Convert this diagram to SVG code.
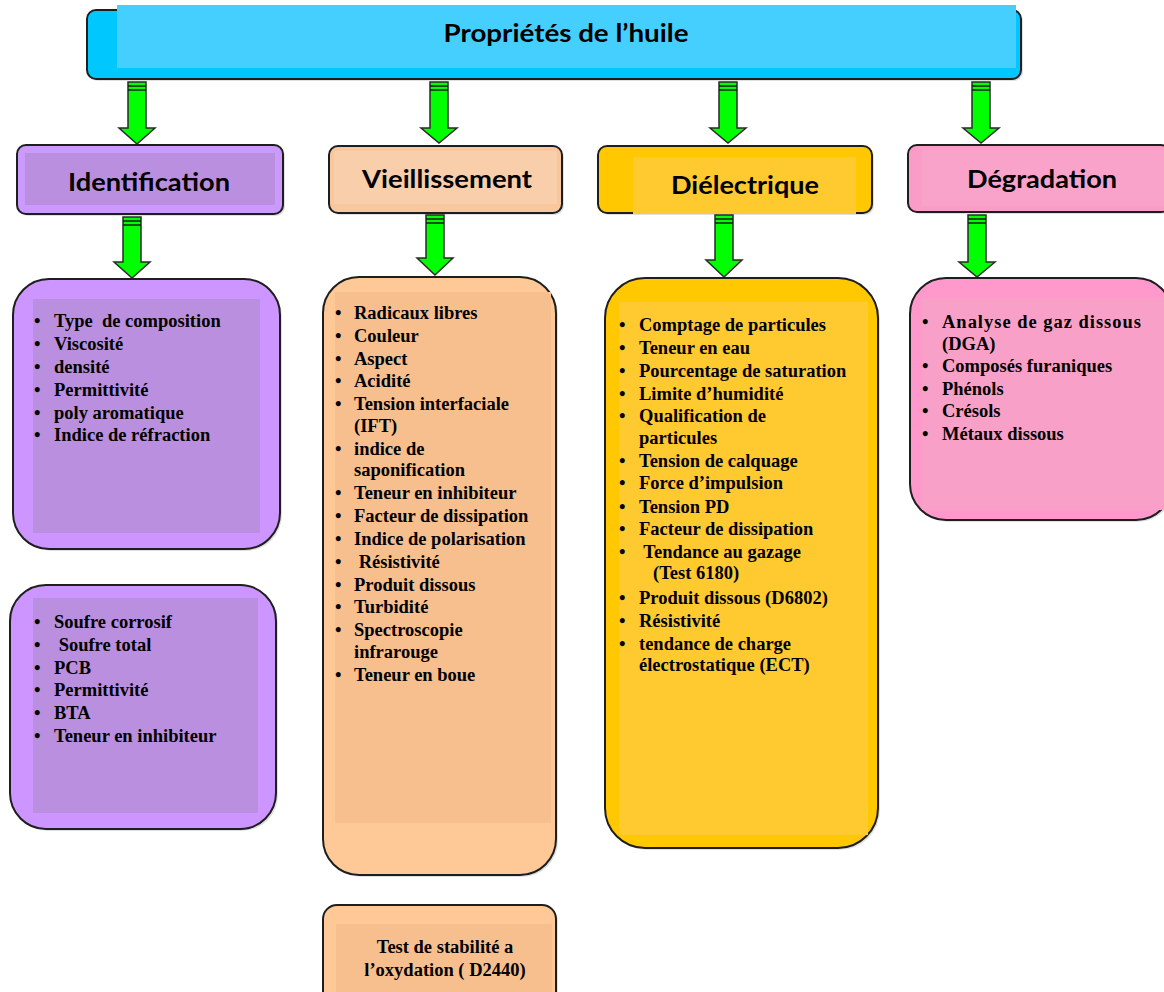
<svg xmlns="http://www.w3.org/2000/svg" width="1164" height="992" viewBox="0 0 1164 992">
<style>
.box{stroke:#1e1e1e;stroke-width:2}
.hd{font-family:Lato,"Open Sans",sans-serif;font-weight:bold;fill:#000;text-anchor:middle}
.li{font-family:"Liberation Serif","Times New Roman",serif;font-weight:bold;font-size:18.5px;fill:#000}
.arr{fill:#00ff00;stroke:#2a2a2a;stroke-width:1.5}
.band{stroke:#1a1a1a;stroke-width:1.5}
.sh{fill:#000;opacity:0.12}
</style>
<rect width="1164" height="992" fill="#fff"/>

<g id="header">
<rect class="sh" x="89" y="12" width="934" height="69" rx="9"/>
<rect class="box" x="87" y="10" width="934" height="69" rx="9" fill="#00c8ff"/>
<rect x="117" y="5" width="899" height="63" fill="#45cfff"/>
<text class="hd" x="566" y="42" font-size="24" textLength="245" lengthAdjust="spacingAndGlyphs">Propriétés de l’huile</text>
</g>

<g id="connectors">
<polygon class="arr" points="128,82 146,82 146,128 155,128 137,144 119,128 128,128"/>
<line class="band" x1="128" y1="86" x2="146" y2="86"/><line class="band" x1="128" y1="90" x2="146" y2="90"/>
<polygon class="arr" points="430,82 448,82 448,128 457,128 439,143 421,128 430,128"/>
<line class="band" x1="430" y1="86" x2="448" y2="86"/><line class="band" x1="430" y1="90" x2="448" y2="90"/>
<polygon class="arr" points="719,82 737,82 737,128 746,128 728,143 710,128 719,128"/>
<line class="band" x1="719" y1="86" x2="737" y2="86"/><line class="band" x1="719" y1="90" x2="737" y2="90"/>
<polygon class="arr" points="972,82 990,82 990,128 999,128 981,143 963,128 972,128"/>
<line class="band" x1="972" y1="86" x2="990" y2="86"/><line class="band" x1="972" y1="90" x2="990" y2="90"/>

<polygon class="arr" points="123,217 141,217 141,262 150,262 132,278 114,262 123,262"/>
<line class="band" x1="123" y1="221" x2="141" y2="221"/><line class="band" x1="123" y1="225" x2="141" y2="225"/>
<polygon class="arr" points="426,215 444,215 444,258 453,258 435,275 417,258 426,258"/>
<line class="band" x1="426" y1="219" x2="444" y2="219"/><line class="band" x1="426" y1="223" x2="444" y2="223"/>
<polygon class="arr" points="715,215 733,215 733,260 742,260 724,277 706,260 715,260"/>
<line class="band" x1="715" y1="219" x2="733" y2="219"/><line class="band" x1="715" y1="223" x2="733" y2="223"/>
<polygon class="arr" points="968,215 986,215 986,262 995,262 977,277 959,262 968,262"/>
<line class="band" x1="968" y1="219" x2="986" y2="219"/><line class="band" x1="968" y1="223" x2="986" y2="223"/>
</g>

<g id="identification">
<rect class="sh" x="19" y="147" width="266" height="69" rx="9"/>
<rect class="box" x="17" y="145" width="266" height="69" rx="9" fill="#cc99ff"/>
<rect x="25" y="153" width="250" height="52" fill="#bb8fdf"/>
<text class="hd" x="149" y="191" font-size="25" textLength="162" lengthAdjust="spacingAndGlyphs">Identification</text>
</g>

<g id="vieillissement">
<rect class="sh" x="331" y="148" width="233" height="67" rx="9"/>
<rect class="box" x="329" y="146" width="233" height="67" rx="9" fill="#f9c79e"/>
<rect x="334" y="151" width="223" height="53" fill="#f9cfab"/>
<text class="hd" x="447" y="188" font-size="25" textLength="170" lengthAdjust="spacingAndGlyphs">Vieillissement</text>
</g>

<g id="dielectrique">
<rect class="sh" x="600" y="148" width="274" height="67" rx="9"/>
<rect class="box" x="598" y="146" width="274" height="67" rx="9" fill="#ffc800"/>
<rect x="633" y="157" width="223" height="57" fill="#ffca30"/>
<text class="hd" x="745" y="194" font-size="25" textLength="148" lengthAdjust="spacingAndGlyphs">Diélectrique</text>
</g>

<g id="degradation">
<rect class="sh" x="910" y="147" width="262" height="67" rx="9"/>
<rect class="box" x="908" y="145" width="262" height="67" rx="9" fill="#f99dc8"/>
<rect x="922" y="150" width="242" height="56" fill="#f9a3cb"/>
<text class="hd" x="1042" y="188" font-size="25" textLength="150" lengthAdjust="spacingAndGlyphs">Dégradation</text>
</g>

<g id="identification-list-1">
<rect class="sh" x="15" y="281" width="267" height="270" rx="36"/>
<rect class="box" x="13" y="279" width="267" height="270" rx="36" fill="#cc95ff"/>
<rect x="33" y="299" width="227" height="234" fill="#bb8fdf"/>
<g class="li">
<text x="34" y="327">•</text><text x="54" y="327" xml:space="preserve">Type  de composition</text>
<text x="34" y="350">•</text><text x="54" y="350">Viscosité</text>
<text x="34" y="373">•</text><text x="54" y="373">densité</text>
<text x="34" y="396">•</text><text x="54" y="396">Permittivité</text>
<text x="34" y="419">•</text><text x="54" y="419">poly aromatique</text>
<text x="34" y="441">•</text><text x="54" y="441">Indice de réfraction</text>
</g>
</g>

<g id="identification-list-2">
<rect class="sh" x="12" y="587" width="266" height="244" rx="36"/>
<rect class="box" x="10" y="585" width="266" height="244" rx="36" fill="#cc95ff"/>
<rect x="33" y="598" width="225" height="215" fill="#bb8fdf"/>
<g class="li">
<text x="34" y="628">•</text><text x="54" y="628">Soufre corrosif</text>
<text x="34" y="651">•</text><text x="54" y="651" xml:space="preserve"> Soufre total</text>
<text x="34" y="674">•</text><text x="54" y="674">PCB</text>
<text x="34" y="696">•</text><text x="54" y="696">Permittivité</text>
<text x="34" y="719">•</text><text x="54" y="719">BTA</text>
<text x="34" y="742">•</text><text x="54" y="742">Teneur en inhibiteur</text>
</g>
</g>

<g id="vieillissement-list">
<rect class="sh" x="325" y="279" width="233" height="598" rx="36"/>
<rect class="box" x="323" y="277" width="233" height="598" rx="36" fill="#fec996"/>
<rect x="335" y="292" width="216" height="531" fill="#f8bf8e"/>
<g class="li">
<text x="335" y="319">•</text><text x="354" y="319">Radicaux libres</text>
<text x="335" y="342">•</text><text x="354" y="342">Couleur</text>
<text x="335" y="365">•</text><text x="354" y="365">Aspect</text>
<text x="335" y="387">•</text><text x="354" y="387">Acidité</text>
<text x="335" y="410">•</text><text x="354" y="410">Tension interfaciale</text>
<text x="354" y="432">(IFT)</text>
<text x="335" y="455">•</text><text x="354" y="455">indice de</text>
<text x="354" y="476">saponification</text>
<text x="335" y="499">•</text><text x="354" y="499">Teneur en inhibiteur</text>
<text x="335" y="522">•</text><text x="354" y="522">Facteur de dissipation</text>
<text x="335" y="545">•</text><text x="354" y="545">Indice de polarisation</text>
<text x="335" y="568">•</text><text x="354" y="568" xml:space="preserve"> Résistivité</text>
<text x="335" y="591">•</text><text x="354" y="591">Produit dissous</text>
<text x="335" y="613">•</text><text x="354" y="613">Turbidité</text>
<text x="335" y="636">•</text><text x="354" y="636">Spectroscopie</text>
<text x="354" y="658">infrarouge</text>
<text x="335" y="681">•</text><text x="354" y="681">Teneur en boue</text>
</g>
</g>

<g id="stabilite">
<rect class="sh" x="325" y="907" width="233" height="110" rx="14"/>
<rect class="box" x="323" y="905" width="233" height="110" rx="14" fill="#fec996"/>
<rect x="336" y="924" width="216" height="70" fill="#f8bf8e"/>
<g class="li" text-anchor="middle">
<text x="445" y="953">Test de stabilité a</text>
<text x="445" y="976">l’oxydation ( D2440)</text>
</g>
</g>

<g id="dielectrique-list">
<rect class="sh" x="607" y="280" width="273" height="570" rx="40"/>
<rect class="box" x="605" y="278" width="273" height="570" rx="40" fill="#ffc800"/>
<rect x="619" y="302" width="249" height="533" fill="#ffca30"/>
<g class="li">
<text x="619" y="331">•</text><text x="639" y="331">Comptage de particules</text>
<text x="619" y="354">•</text><text x="639" y="354">Teneur en eau</text>
<text x="619" y="377">•</text><text x="639" y="377">Pourcentage de saturation</text>
<text x="619" y="400">•</text><text x="639" y="400">Limite d’humidité</text>
<text x="619" y="422">•</text><text x="639" y="422">Qualification de</text>
<text x="639" y="444">particules</text>
<text x="619" y="467">•</text><text x="639" y="467">Tension de calquage</text>
<text x="619" y="489">•</text><text x="639" y="489">Force d’impulsion</text>
<text x="619" y="513">•</text><text x="639" y="513">Tension PD</text>
<text x="619" y="535">•</text><text x="639" y="535">Facteur de dissipation</text>
<text x="619" y="558">•</text><text x="639" y="558" xml:space="preserve"> Tendance au gazage</text>
<text x="653" y="579">(Test 6180)</text>
<text x="619" y="604">•</text><text x="639" y="604">Produit dissous (D6802)</text>
<text x="619" y="627">•</text><text x="639" y="627">Résistivité</text>
<text x="619" y="650">•</text><text x="639" y="650">tendance de charge</text>
<text x="639" y="671">électrostatique (ECT)</text>
</g>
</g>

<g id="degradation-list">
<rect class="sh" x="912" y="280" width="262" height="242" rx="36"/>
<rect class="box" x="910" y="278" width="262" height="242" rx="36" fill="#ff99cc"/>
<rect x="922" y="298" width="242" height="212" fill="#f9a0c8"/>
<g class="li">
<text x="922" y="328">•</text><text x="942" y="328" textLength="199" lengthAdjust="spacing">Analyse de gaz dissous</text>
<text x="942" y="350">(DGA)</text>
<text x="922" y="372">•</text><text x="942" y="372">Composés furaniques</text>
<text x="922" y="395">•</text><text x="942" y="395">Phénols</text>
<text x="922" y="417">•</text><text x="942" y="417">Crésols</text>
<text x="922" y="440">•</text><text x="942" y="440">Métaux dissous</text>
</g>
</g>
</svg>
